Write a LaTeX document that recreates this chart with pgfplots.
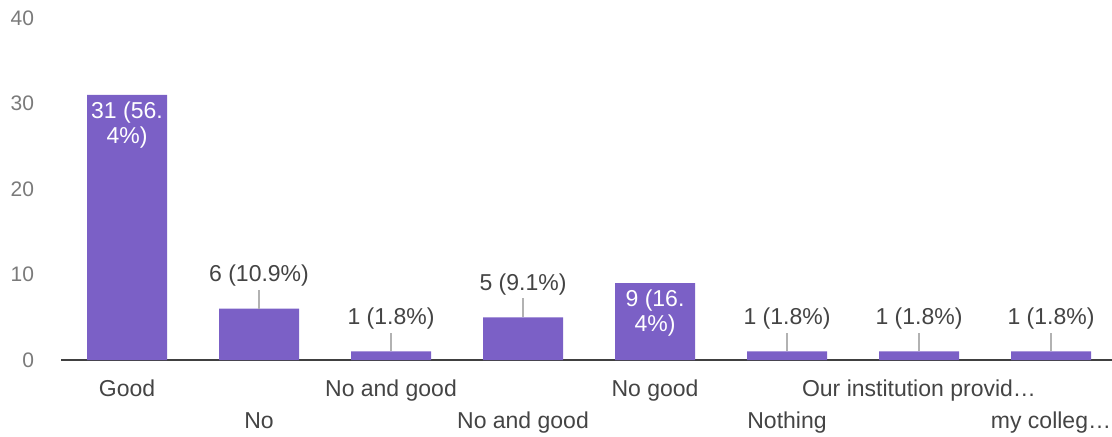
\documentclass[border=0pt]{standalone}
\usepackage{pgfplots}
\pgfplotsset{compat=1.18}
\usepackage{pgfplotstable}
\usepackage{fontspec}
\setmainfont{Liberation Sans}
\definecolor{barc}{HTML}{7B60C6}
\definecolor{txt}{HTML}{444444}
\definecolor{tck}{HTML}{7A7A7A}
\pgfplotstableread{
x y
0 31
1 6
2 1
3 5
4 9
5 1
6 1
7 1
}\bars
\pgfplotstableread{
x y e label
1 6 2.2 {6 (10.9\%)}
2 1 2.2 {1 (1.8\%)}
3 5 2.2 {5 (9.1\%)}
5 1 2.2 {1 (1.8\%)}
6 1 2.2 {1 (1.8\%)}
7 1 2.2 {1 (1.8\%)}
}\outside
\begin{document}
\begin{tikzpicture}
\useasboundingbox (-30.5pt,-38pt) rectangle (525.5pt,180pt);
\begin{axis}[
  scale only axis, width=525.5pt, height=171pt,
  xmin=-0.5, xmax=7.462, ymin=0, ymax=40,
  axis x line*=bottom, axis y line*=left,
  y axis line style={draw=none},
  x axis line style={draw=black!75, line width=1pt},
  major tick length=0pt,
  ytick={0,10,20,30,40},
  xtick={0,...,7},
  xticklabels={Good,{\vphantom{Nd}\\No},No and good,{\vphantom{Nd}\\No and good},No good,{\vphantom{Nd}\\Nothing},Our institution provid…,{\vphantom{Nd}\\my colleg…}},
  x tick label style={font={\fontsize{11.5}{16}\selectfont}, text=txt, align=center, anchor=north, yshift=-6.5pt},
  y tick label style={font={\fontsize{10.5}{12}\selectfont}, text=tck, xshift=-10pt},
  /pgf/number format/assume math mode=true,
  clip=false,
]
\addplot[ybar, bar width=40pt, bar shift=0pt, fill=barc, draw=none] table[x=x,y=y] {\bars};
\addplot[draw=none, mark=none, forget plot,
  error bars/.cd, y dir=plus, y explicit, error mark=none,
  error bar style={draw=gray!60, line width=0.6pt}]
  table[x=x, y=y, y error=e] {\outside};
\addplot[draw=none, mark=none, only marks,
  nodes near coords, point meta=explicit symbolic,
  nodes near coords style={anchor=south, inner sep=0pt, yshift=11pt, text=txt, font={\fontsize{11.5}{13}\selectfont}}]
  table[x=x, y=y, meta=label] {\outside};
\addplot[draw=none, mark=none, only marks,
  nodes near coords, point meta=explicit symbolic,
  nodes near coords style={anchor=north, inner sep=0pt, yshift=-3pt, text=white, align=center, font={\fontsize{11.5}{12.5}\selectfont}}]
  coordinates {(0,31) [31 (56.\\4\%)] (4,9) [9 (16.\\4\%)]};
\end{axis}
\end{tikzpicture}
\end{document}
